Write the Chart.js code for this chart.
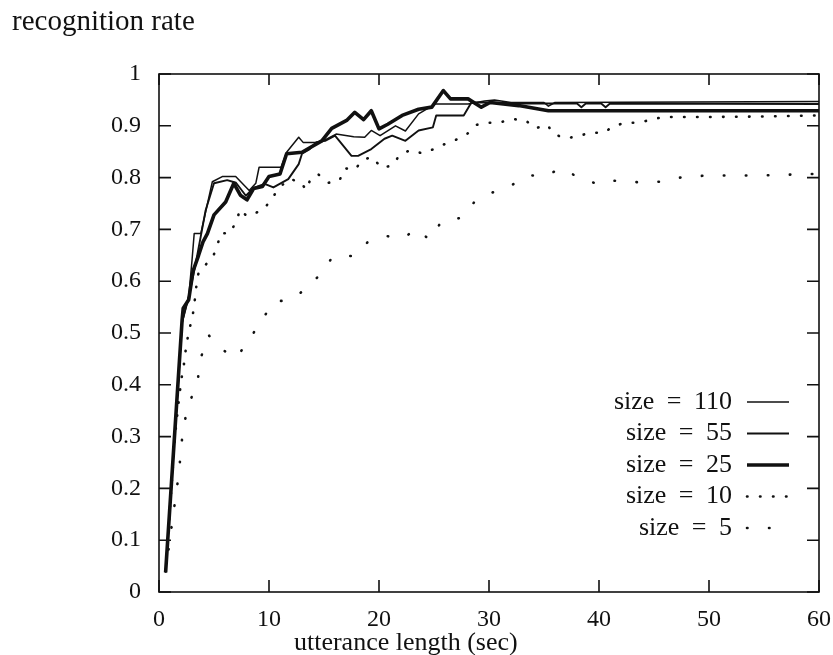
<!DOCTYPE html>
<html>
<head>
<meta charset="utf-8">
<title>recognition rate vs utterance length</title>
<script src="https://cdn.jsdelivr.net/npm/chart.js@4.4.1/dist/chart.umd.min.js"></script>
<style>
  html, body { margin: 0; padding: 0; background: #fff; }
  #wrap { width: 833px; height: 655px; }
</style>
</head>
<body>
<div id="wrap"><canvas id="rateChart" width="833" height="655"></canvas></div>
<script>
/* ================================
   RECOGNITION RATE vs UTTERANCE LENGTH
   ================================ */

// legend labels, in legend order
const seriesNames = ['size = 110', 'size = 55', 'size = 25', 'size = 10', 'size = 5'];

// tick labels
const xTickLabels = ['0', '10', '20', '30', '40', '50', '60'];
const yTickLabels = ['0', '0.1', '0.2', '0.3', '0.4', '0.5', '0.6', '0.7', '0.8', '0.9', '1'];

// size = 110 (thin line)
const size110X = [0.6, 2.1, 2.7, 3.0, 3.2, 3.8, 4.85, 5.75, 6.97, 8.2, 8.8, 9.1, 11.1, 11.6, 12.7, 13.1, 14.2, 15.0, 16.1, 17.7, 18.7, 19.3, 20.1, 21.5, 22.4, 23.6, 25.1, 28.1, 29.6, 30.5, 32.0, 35.0, 35.4, 36.0, 60];
const size110Y = [0.038, 0.52, 0.57, 0.64, 0.692, 0.692, 0.792, 0.802, 0.802, 0.775, 0.789, 0.82, 0.82, 0.849, 0.878, 0.868, 0.868, 0.872, 0.884, 0.879, 0.878, 0.891, 0.881, 0.9, 0.89, 0.923, 0.942, 0.942, 0.948, 0.95, 0.945, 0.945, 0.938, 0.945, 0.947];

// size = 55 (thin line)
const size55X = [0.6, 2.1, 2.7, 3.3, 4.24, 5.0, 6.2, 7.0, 7.9, 8.6, 9.6, 10.4, 11.75, 12.7, 13.0, 13.7, 14.3, 15.1, 16.0, 17.5, 18.1, 19.3, 20.5, 21.2, 22.4, 23.6, 24.9, 25.2, 27.7, 28.4, 30.0, 33.0, 38.0, 38.4, 38.8, 40.2, 40.6, 41.0, 60];
const size55Y = [0.038, 0.52, 0.57, 0.63, 0.737, 0.789, 0.795, 0.79, 0.765, 0.78, 0.788, 0.781, 0.797, 0.826, 0.846, 0.855, 0.868, 0.871, 0.881, 0.842, 0.842, 0.855, 0.875, 0.881, 0.871, 0.891, 0.897, 0.92, 0.92, 0.945, 0.945, 0.943, 0.943, 0.936, 0.943, 0.943, 0.936, 0.943, 0.942];

// size = 25 (thick line)
const size25X = [0.6, 2.1, 2.2, 2.7, 3.1, 3.6, 4.0, 4.4, 5.0, 6.06, 6.8, 7.4, 8.0, 8.6, 9.4, 10.0, 11.0, 11.6, 13.0, 14.8, 15.7, 17.1, 17.8, 18.6, 19.3, 20.0, 20.8, 22.1, 23.6, 24.8, 25.85, 26.5, 28.1, 29.3, 30.1, 32.7, 35.4, 60];
const size25Y = [0.038, 0.525, 0.548, 0.564, 0.62, 0.65, 0.676, 0.692, 0.728, 0.753, 0.789, 0.766, 0.757, 0.779, 0.783, 0.802, 0.807, 0.846, 0.849, 0.871, 0.895, 0.911, 0.926, 0.912, 0.929, 0.894, 0.903, 0.92, 0.932, 0.936, 0.968, 0.952, 0.952, 0.936, 0.945, 0.939, 0.929, 0.929];

// size = 10 (dense dots)
const size10X = [0.6, 1.45, 1.75, 2.03, 2.27, 2.4, 2.6, 2.85, 3.1, 3.27, 3.4, 3.6, 4.9, 5.3, 5.6, 6.45, 7.0, 7.4, 7.95, 8.45, 9.5, 10.2, 10.9, 11.75, 12.8, 13.4, 13.8, 14.5, 15.4, 16.4, 16.9, 17.8, 18.5, 19.4, 20.2, 21.2, 21.9, 22.85, 23.9, 25.0, 26.0, 27.1, 28.0, 28.9, 29.8, 30.9, 32.1, 33.3, 34.2, 35.3, 35.9, 36.9, 38.0, 39.2, 40.4, 41.3, 42.4, 43.6, 44.6, 45.8, 50, 55, 60];
const size10Y = [0.04, 0.3, 0.36, 0.41, 0.44, 0.463, 0.49, 0.515, 0.539, 0.566, 0.591, 0.617, 0.647, 0.668, 0.693, 0.692, 0.715, 0.739, 0.726, 0.729, 0.738, 0.758, 0.779, 0.797, 0.793, 0.776, 0.799, 0.806, 0.79, 0.794, 0.818, 0.815, 0.834, 0.84, 0.819, 0.823, 0.844, 0.853, 0.847, 0.855, 0.865, 0.874, 0.884, 0.902, 0.906, 0.906, 0.913, 0.911, 0.895, 0.902, 0.884, 0.876, 0.879, 0.887, 0.886, 0.899, 0.906, 0.906, 0.911, 0.917, 0.917, 0.918, 0.92];

// size = 5 (sparse dots)
const size5X = [0.6, 1.3, 1.8, 2.0, 2.2, 2.75, 3.5, 3.8, 4.5, 5.8, 7.0, 8.2, 9.3, 10.6, 11.7, 12.7, 13.7, 14.5, 15.8, 17.7, 19.0, 20.7, 22.2, 23.4, 24.6, 25.7, 27.4, 28.8, 30.5, 32.1, 33.6, 34.8, 36.7, 38.5, 40.2, 41.4, 43.6, 45.7, 47.8, 50.0, 52.2, 54.4, 56.6, 58.8, 60];
const size5Y = [0.04, 0.15, 0.228, 0.274, 0.319, 0.364, 0.406, 0.452, 0.496, 0.467, 0.452, 0.486, 0.525, 0.562, 0.562, 0.575, 0.591, 0.61, 0.647, 0.649, 0.676, 0.687, 0.683, 0.701, 0.68, 0.716, 0.722, 0.756, 0.773, 0.786, 0.805, 0.802, 0.818, 0.795, 0.787, 0.794, 0.791, 0.792, 0.802, 0.804, 0.804, 0.804, 0.805, 0.807, 0.807];

const INK = '#111';
const SERIF = "'Liberation Serif', 'Times New Roman', serif";

function toPoints(xs, ys) {
    return xs.map(function(x, i) { return { x: x, y: ys[i] }; });
}

function lineSet(label, xs, ys, width, dash) {
    return {
        label: label,
        data: toPoints(xs, ys),
        borderColor: INK,
        borderWidth: width,
        borderDash: dash,
        borderCapStyle: dash.length ? 'round' : 'butt',
        borderJoinStyle: 'round',
        pointRadius: 0,
        tension: 0,
        fill: false
    };
}

// Frame box plus inward ticks on all four sides
const frameTicks = {
    id: 'frameTicks',
    afterDatasetsDraw(chart) {
        const ctx = chart.ctx;
        const a = chart.chartArea;
        const x = chart.scales.x;
        const y = chart.scales.y;
        ctx.save();
        ctx.strokeStyle = INK;
        ctx.lineWidth = 1.6;
        ctx.strokeRect(a.left, a.top, a.right - a.left, a.bottom - a.top);
        ctx.beginPath();
        x.ticks.forEach(function(t) {
            const px = x.getPixelForValue(t.value);
            ctx.moveTo(px, a.bottom); ctx.lineTo(px, a.bottom - 12);
            ctx.moveTo(px, a.top); ctx.lineTo(px, a.top + 11);
        });
        y.ticks.forEach(function(t) {
            const py = y.getPixelForValue(t.value);
            ctx.moveTo(a.left, py); ctx.lineTo(a.left + 12, py);
            ctx.moveTo(a.right, py); ctx.lineTo(a.right - 12, py);
        });
        ctx.stroke();
        ctx.restore();
    }
};

// Axis titles, placed as in the scanned figure
const axisTitles = {
    id: 'axisTitles',
    afterDraw(chart) {
        const ctx = chart.ctx;
        const a = chart.chartArea;
        ctx.save();
        ctx.fillStyle = INK;
        ctx.font = '29px ' + SERIF;
        ctx.textBaseline = 'middle';
        ctx.textAlign = 'left';
        ctx.fillText('recognition rate', 12, 22);
        ctx.font = '26px ' + SERIF;
        ctx.textAlign = 'center';
        ctx.fillText('utterance length (sec)', a.left + (a.right - a.left) * 0.374, 643);
        ctx.restore();
    }
};

// Legend inside the plot, lower right
const innerLegend = {
    id: 'innerLegend',
    afterDraw(chart) {
        const ctx = chart.ctx;
        const a = chart.chartArea;
        const textRight = a.right - 87;
        const lineStart = a.right - 72;
        const lineEnd = a.right - 30;
        ctx.save();
        ctx.font = '26px ' + SERIF;
        ctx.textAlign = 'right';
        ctx.textBaseline = 'middle';
        ctx.fillStyle = INK;
        if ('wordSpacing' in ctx) ctx.wordSpacing = '6px';
        chart.data.datasets.forEach(function(ds, i) {
            const rowY = a.top + 328 + i * 31.5;
            ctx.fillText(ds.label, textRight, rowY);
            ctx.beginPath();
            ctx.strokeStyle = ds.borderColor;
            ctx.lineWidth = ds.borderWidth;
            ctx.lineCap = ds.borderCapStyle;
            ctx.setLineDash(ds.borderDash);
            ctx.moveTo(lineStart, rowY);
            ctx.lineTo(lineEnd, rowY);
            ctx.stroke();
        });
        ctx.restore();
    }
};

new Chart(document.getElementById('rateChart'), {
    type: 'line',
    data: {
        datasets: [
            lineSet(seriesNames[0], size110X, size110Y, 1.5, []),
            lineSet(seriesNames[1], size55X, size55Y, 1.9, []),
            lineSet(seriesNames[2], size25X, size25Y, 3.6, []),
            lineSet(seriesNames[3], size10X, size10Y, 2.6, [0.5, 12.5]),
            lineSet(seriesNames[4], size5X, size5Y, 2.6, [0.5, 21.5])
        ]
    },
    options: {
        responsive: false,
        animation: false,
        layout: { padding: { left: 0, top: 74, right: 14, bottom: 0 } },
        plugins: {
            legend: { display: false },
            tooltip: { enabled: false }
        },
        scales: {
            x: {
                type: 'linear',
                min: 0,
                max: 60,
                afterFit: function(scale) {
                    scale.height = 63;
                    scale.paddingLeft = 0;
                    scale.paddingRight = 0;
                },
                grid: { display: false, drawTicks: false },
                border: { display: false },
                ticks: {
                    stepSize: 10,
                    padding: 13,
                    color: INK,
                    font: { family: SERIF, size: 24 },
                    maxRotation: 0,
                    callback: function(value, index) { return xTickLabels[index]; }
                }
            },
            y: {
                min: 0,
                max: 1,
                afterFit: function(scale) { scale.width = 159; },
                grid: { display: false, drawTicks: false },
                border: { display: false },
                ticks: {
                    stepSize: 0.1,
                    padding: 18,
                    color: INK,
                    font: { family: SERIF, size: 24 },
                    callback: function(value, index) { return yTickLabels[index]; }
                }
            }
        }
    },
    plugins: [frameTicks, axisTitles, innerLegend]
});
</script>
</body>
</html>
